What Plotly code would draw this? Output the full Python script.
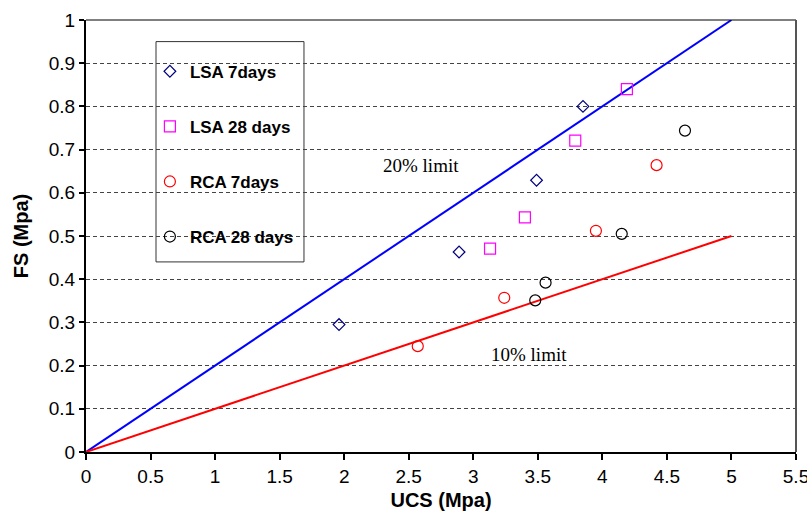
import plotly.graph_objects as go

# ---- data ----
lsa7_ucs = [1.96, 2.89, 3.49, 3.85]
lsa7_fs = [0.295, 0.463, 0.629, 0.800]
lsa28_ucs = [3.13, 3.40, 3.79, 4.19]
lsa28_fs = [0.471, 0.543, 0.721, 0.840]
rca7_ucs = [2.57, 3.24, 3.95, 4.42]
rca7_fs = [0.245, 0.357, 0.512, 0.664]
rca28_ucs = [3.48, 3.56, 4.15, 4.64]
rca28_fs = [0.351, 0.392, 0.505, 0.744]
limit_ucs = [0, 5]
limit20_fs = [0, 1.0]
limit10_fs = [0, 0.5]
x_ticks = [0, 0.5, 1, 1.5, 2, 2.5, 3, 3.5, 4, 4.5, 5, 5.5]
y_ticks = [0, 0.1, 0.2, 0.3, 0.4, 0.5, 0.6, 0.7, 0.8, 0.9, 1]

fig = go.Figure()
fig.add_trace(go.Scatter(x=limit_ucs, y=limit20_fs, mode="lines",
                         line=dict(color="#0000FF", width=2), showlegend=False, hoverinfo="skip"))
fig.add_trace(go.Scatter(x=limit_ucs, y=limit10_fs, mode="lines",
                         line=dict(color="#FF0000", width=2), showlegend=False, hoverinfo="skip"))

series = [
    ("LSA 7days", lsa7_ucs, lsa7_fs, "diamond-open", "#000080", 9),
    ("LSA 28 days", lsa28_ucs, lsa28_fs, "square-open", "#FF00FF", 11),
    ("RCA 7days", rca7_ucs, rca7_fs, "circle-open", "#FF0000", 11),
    ("RCA 28 days", rca28_ucs, rca28_fs, "circle-open", "#000000", 11),
]
for i, (name, xs, ys, sym, col, sz) in enumerate(series):
    fig.add_trace(go.Scatter(x=xs, y=ys, mode="markers", name=name, legendgroup=f"g{i}",
                             marker=dict(symbol=sym, color=col, size=sz, line=dict(color=col, width=1.2))))

fig.update_layout(
    width=807, height=511,
    margin=dict(l=86, r=11, t=20, b=59, autoexpand=False),
    paper_bgcolor="white", plot_bgcolor="white",
    font=dict(family="Liberation Sans, Arial, sans-serif", color="black"),
    showlegend=True,
    legend=dict(x=0.09, y=0.922, xanchor="left", yanchor="top",
                bgcolor="rgba(0,0,0,0)", borderwidth=0,
                font=dict(size=17, family="Liberation Sans, Arial, sans-serif", weight="bold"),
                tracegroupgap=30, itemwidth=30),
    xaxis=dict(range=[0, 5.5], tickvals=x_ticks, ticktext=[f"{v:g}" for v in x_ticks],
               automargin=False, ticklabeloverflow="allow",
               showgrid=False, zeroline=False, showline=True, linecolor="black", linewidth=2,
               ticks="outside", ticklen=6, tickwidth=1.5, tickcolor="black",
               tickfont=dict(size=19),
               title=dict(text="<b>UCS (Mpa)</b>", font=dict(size=20), standoff=10)),
    yaxis=dict(range=[0, 1], tickvals=y_ticks, ticktext=[f"{v:g}" for v in y_ticks],
               automargin=False, ticklabeloverflow="allow",
               showgrid=True, gridcolor="#444444", gridwidth=1, griddash="4px,3px",
               zeroline=False, showline=True, linecolor="black", linewidth=2,
               ticks="outside", ticklen=5, tickwidth=1.5, tickcolor="black",
               tickfont=dict(size=19),
               title=dict(text="<b>FS (Mpa)</b>", font=dict(size=20), standoff=15)),
    shapes=[
        dict(type="rect", xref="paper", yref="paper", x0=0.0986, x1=0.307, y0=0.440, y1=0.950,
             line=dict(color="#333333", width=1), fillcolor="white", layer="between"),
        dict(type="line", xref="paper", yref="paper", x0=0, x1=1, y0=1, y1=1,
             line=dict(color="black", width=1)),
        dict(type="line", xref="paper", yref="paper", x0=1, x1=1, y0=0, y1=1,
             line=dict(color="#555555", width=2)),
    ],
    annotations=[
        dict(x=2.594, y=0.664, xref="x", yref="y", text="20% limit", showarrow=False,
             font=dict(family="Liberation Serif, Times New Roman, serif", size=19)),
        dict(x=3.43, y=0.226, xref="x", yref="y", text="10% limit", showarrow=False,
             font=dict(family="Liberation Serif, Times New Roman, serif", size=19)),
    ],
)

fig.write_html("out.html", config={"displayModeBar": False},
               post_script="document.body.style.margin='0';document.body.style.overflow='hidden';")
